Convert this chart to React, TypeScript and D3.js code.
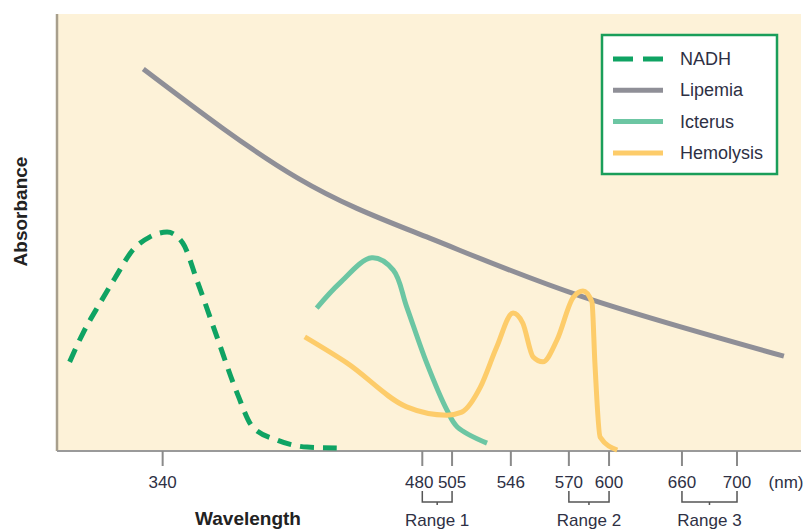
import React, { useEffect } from "react";
import * as d3 from "d3";

// schematic chart: positions on both axes are in plot units 0..100
const tickLabels = ["340", "480", "505", "546", "570", "600", "660", "700"];
const tickPos = [14.2, 49.1, 53.1, 61.0, 68.8, 74.2, 84.0, 91.4];

const rangeNames = ["Range 1", "Range 2", "Range 3"];
const rangeFrom = ["480", "570", "660"];
const rangeTo = ["505", "600", "700"];

const nadhX = [1.7, 3.5, 5.8, 7.8, 10.2, 12.5, 14.8, 16.9, 18.8, 21.5, 24.2, 26.3, 29.6, 33.6, 37.6];
const nadhY = [20.4, 27.0, 33.9, 39.6, 46.0, 49.0, 50.1, 47.6, 39.1, 26.1, 13.3, 5.5, 2.5, 0.9, 0.7];

const lipemiaX = [11.6, 32.3, 50.1, 70.3, 97.7];
const lipemiaY = [87.4, 62.5, 48.7, 35.5, 21.7];

const icterusX = [34.9, 38.0, 42.3, 45.2, 47.0, 49.7, 52.4, 53.8, 57.8];
const icterusY = [32.7, 38.4, 44.2, 41.4, 33.0, 20.1, 9.4, 5.5, 1.8];

const hemolysisX = [33.3, 39.0, 47.0, 52.4, 54.4, 56.9, 59.1, 61.3, 62.6, 64.0, 65.3, 67.2, 69.4, 70.7, 71.9, 72.3, 73.0, 75.3];
const hemolysisY = [26.1, 20.1, 10.1, 8.2, 8.9, 14.6, 23.8, 31.6, 29.3, 21.5, 20.4, 25.4, 35.2, 36.6, 34.1, 20.1, 3.2, 0.2];

const seriesNames = ["NADH", "Lipemia", "Icterus", "Hemolysis"];
const seriesColors = ["#0fa363", "#8f8f97", "#6cc6a3", "#fdcc6a"];

const W = 808;
const H = 529;
const margin = { left: 57, right: 7, top: 14, bottom: 78 };
const font = "'Liberation Sans', Arial, sans-serif";

export default function App() {
  useEffect(() => {
    document.body.style.margin = "0";
  }, []);

  const x = d3.scaleLinear().domain([0, 100]).range([margin.left, W - margin.right]);
  const y = d3.scaleLinear().domain([0, 100]).range([H - margin.bottom, margin.top]);

  const mk = (xs: number[], ys: number[], curve: d3.CurveFactory) =>
    d3
      .line<number>()
      .x((d, i) => x(xs[i]))
      .y((d) => y(d))
      .curve(curve)(ys) || "";

  const series = [
    { path: mk(nadhX, nadhY, d3.curveMonotoneX), dash: "14 9" },
    { path: mk(lipemiaX, lipemiaY, d3.curveNatural), dash: undefined },
    { path: mk(icterusX, icterusY, d3.curveCatmullRom), dash: undefined },
    { path: mk(hemolysisX, hemolysisY, d3.curveMonotoneX), dash: undefined },
  ];

  const posOf = (lab: string) => x(tickPos[tickLabels.indexOf(lab)]);
  const y0 = y(0);

  return (
    <svg width={W} height={H} style={{ display: "block" }} fontFamily={font}>
      <rect x={x(0)} y={y(100)} width={x(100) - x(0)} height={y(0) - y(100)} fill="#fdf2d8" />
      <line x1={x(0)} x2={x(0)} y1={y(100)} y2={y0} stroke="#a89f8c" strokeWidth={2.5} />
      <line x1={x(0)} x2={x(100)} y1={y0} y2={y0} stroke="#9a9a9a" strokeWidth={2} />

      {tickPos.map((p, i) => (
        <g key={tickLabels[i]}>
          <line x1={x(p)} x2={x(p)} y1={y0} y2={y0 + 15} stroke="#8a8a8a" strokeWidth={2} />
          {/* 480 sits a bit left so it doesn't run into 505 */}
          <text
            x={x(p)}
            dx={tickLabels[i] === "480" ? -3 : 0}
            y={y0 + 37}
            textAnchor="middle"
            fontSize={17}
            fill="#2e3044"
          >
            {tickLabels[i]}
          </text>
        </g>
      ))}
      <text x={786} y={y0 + 37} textAnchor="middle" fontSize={17} fill="#2e3044">
        (nm)
      </text>

      {rangeNames.map((r, i) => {
        const a = posOf(rangeFrom[i]);
        const b = posOf(rangeTo[i]);
        const by = y0 + 51;
        return (
          <g key={r}>
            <path
              d={`M${a},${by - 11}V${by}H${b}V${by - 11}M${(a + b) / 2},${by}v3`}
              fill="none"
              stroke="#555"
              strokeWidth={1.5}
            />
            <text x={(a + b) / 2} y={y0 + 75} textAnchor="middle" fontSize={17} fill="#2e3044">
              {r}
            </text>
          </g>
        );
      })}

      <text x={248} y={y0 + 74} textAnchor="middle" fontSize={19} fontWeight="bold" fill="#222">
        Wavelength
      </text>
      <text
        transform={`translate(27,${(y(100) + y0) / 2 - 21}) rotate(-90)`}
        textAnchor="middle"
        fontSize={19}
        fontWeight="bold"
        fill="#222"
      >
        Absorbance
      </text>

      {series.map((s, i) => (
        <path
          key={seriesNames[i]}
          d={s.path}
          fill="none"
          stroke={seriesColors[i]}
          strokeWidth={5}
          strokeDasharray={s.dash}
        />
      ))}

      <g>
        <rect x={602} y={35} width={175} height={139} fill="#fff" stroke="#1a9e5a" strokeWidth={2.5} />
        {seriesNames.map((n, i) => (
          <g key={n} transform={`translate(613,${59 + i * 31.3})`}>
            <line
              x1={0}
              x2={50}
              y1={0}
              y2={0}
              stroke={seriesColors[i]}
              strokeWidth={5}
              strokeDasharray={i === 0 ? "20 10" : undefined}
            />
            <text x={67} y={6} fontSize={18} fill="#2e3044">
              {n}
            </text>
          </g>
        ))}
      </g>
    </svg>
  );
}
